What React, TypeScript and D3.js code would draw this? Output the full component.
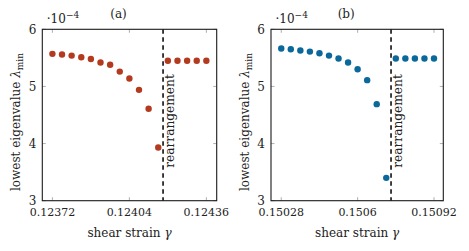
import * as d3 from 'd3';

// panel (a)
const strainA_before = [0.12372, 0.12376, 0.1238, 0.12384, 0.12388, 0.12392, 0.12396, 0.124, 0.12404, 0.12408, 0.12412, 0.12416];
const lambdaA_before = [5.57, 5.56, 5.54, 5.51, 5.48, 5.42, 5.38, 5.26, 5.14, 4.94, 4.61, 3.93];
const strainA_after = [0.1242, 0.12424, 0.12428, 0.12432, 0.12436];
const lambdaA_after = [5.45, 5.45, 5.45, 5.45, 5.45];
const rearrangeA = 0.12418;
const xTicksA = [0.12372, 0.12404, 0.12436];
const xTickLabelsA = ["0.12372", "0.12404", "0.12436"];

// panel (b)
const strainB_before = [0.15028, 0.15032, 0.15036, 0.1504, 0.15044, 0.15048, 0.15052, 0.15056, 0.1506, 0.15064, 0.15068, 0.15072];
const lambdaB_before = [5.665, 5.65, 5.63, 5.61, 5.58, 5.54, 5.49, 5.42, 5.3, 5.11, 4.69, 3.4];
const strainB_after = [0.15076, 0.1508, 0.15084, 0.15088, 0.15092];
const lambdaB_after = [5.49, 5.49, 5.49, 5.49, 5.49];
const rearrangeB = 0.15074;
const xTicksB = [0.15028, 0.1506, 0.15092];
const xTickLabelsB = ["0.15028", "0.1506", "0.15092"];

const yTicks = [3, 4, 5, 6];

const font = "DejaVu Serif";

function Panel(props) {
    const { left, right, top, bottom, xDomain, xs, ys, line, xTicks, xLabels, color, title } = props;

    const x_scale = d3.scaleLinear().domain(xDomain).range([left, right]);
    const y_scale = d3.scaleLinear().domain([3, 6]).range([bottom, top]);
    const tick_len = 3.5;
    const lx = x_scale(line);
    const cx = (left + right) / 2;

    return (
        <g fontFamily={font} fill="#222">
            {/* ticks, both sides */}
            {xTicks.map((t, i) => (
                <g key={"xt" + i} stroke="#9a9a9a" strokeWidth={0.8}>
                    <line x1={x_scale(t)} x2={x_scale(t)} y1={bottom} y2={bottom - tick_len} />
                    <line x1={x_scale(t)} x2={x_scale(t)} y1={top} y2={top + tick_len} />
                </g>
            ))}
            {yTicks.map((t, i) => (
                <g key={"yt" + i} stroke="#9a9a9a" strokeWidth={0.8}>
                    <line x1={left} x2={left + tick_len} y1={y_scale(t)} y2={y_scale(t)} />
                    <line x1={right} x2={right - tick_len} y1={y_scale(t)} y2={y_scale(t)} />
                </g>
            ))}

            {/* rearrangement line */}
            <line x1={lx} x2={lx} y1={top} y2={bottom} stroke="#111" strokeWidth={1.6} strokeDasharray="4.5,3.5" />
            <text transform={"translate(" + (lx + 10.5) + "," + 121 + ") rotate(-90)"}
                textAnchor="middle" fontSize={12.2}>
                rearrangement
            </text>

            {/* dots */}
            {xs.map((d, i) => (
                <circle key={"p" + i} cx={x_scale(d)} cy={y_scale(ys[i])} r={3.2} fill={color} />
            ))}

            {/* box */}
            <rect x={left} y={top} width={right - left} height={bottom - top} fill="none" stroke="#1a1a1a" strokeWidth={1.1} />

            {/* tick labels */}
            {xTicks.map((t, i) => (
                <text key={"xl" + i} x={x_scale(t)} y={216} textAnchor="middle" fontSize={11}>
                    {xLabels[i]}
                </text>
            ))}
            {yTicks.map((t, i) => (
                <text key={"yl" + i} x={left - 6} y={y_scale(t) + 4.3} textAnchor="end" fontSize={12}>
                    {t}
                </text>
            ))}

            {/* multiplier */}
            <text x={left + 4.5} y={23} fontSize={12}>
                ·10<tspan fontSize={9} dy={-5}>−4</tspan>
            </text>

            {/* title */}
            <text x={cx - 11} y={17.5} textAnchor="middle" fontSize={12}>{title}</text>

            {/* axis labels */}
            <text x={cx} y={237} textAnchor="middle" fontSize={12}>
                shear strain <tspan fontStyle="italic">γ</tspan>
            </text>
            <text transform={"translate(" + (left - 22) + "," + 122 + ") rotate(-90)"}
                textAnchor="middle" fontSize={12}>
                lowest eigenvalue <tspan fontStyle="italic">λ</tspan><tspan fontSize={9} dy={2.5}>min</tspan>
            </text>
        </g>
    );
}

export default function App() {
    return (
        <svg width={469} height={251} style={{ position: "absolute", left: 0, top: 0, background: "#fff" }}>
            <Panel left={42.3} right={216.7} top={29.3} bottom={200.7}
                xDomain={[0.123678, 0.124403]}
                xs={strainA_before.concat(strainA_after)}
                ys={lambdaA_before.concat(lambdaA_after)}
                line={rearrangeA} xTicks={xTicksA} xLabels={xTickLabelsA}
                color="#b43a1f" title="(a)" />
            <Panel left={271} right={443.3} top={29.3} bottom={200.7}
                xDomain={[0.150237, 0.150959]}
                xs={strainB_before.concat(strainB_after)}
                ys={lambdaB_before.concat(lambdaB_after)}
                line={rearrangeB} xTicks={xTicksB} xLabels={xTickLabelsB}
                color="#0a689a" title="(b)" />
        </svg>
    );
}
